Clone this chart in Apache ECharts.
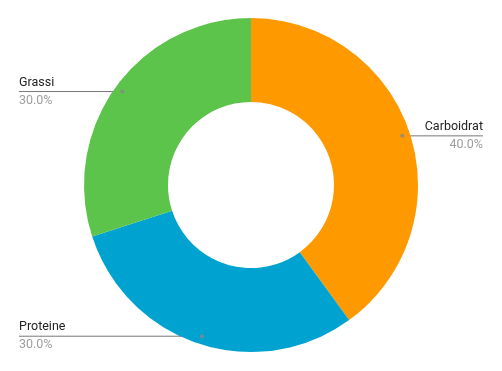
<!DOCTYPE html>
<html>
<head>
<meta charset="utf-8">
<style>
  html, body { margin: 0; padding: 0; background: #fff; }
  #chart { width: 502px; height: 371px; }
</style>
<script src="https://cdn.jsdelivr.net/npm/echarts@6/dist/echarts.min.js"></script>
</head>
<body>
<div id="chart"></div>
<script>
const categories = ['Carboidrat', 'Proteine', 'Grassi'];
const values = [40, 30, 30];
const colors = ['#ff9900', '#00a3d0', '#5cc44a'];

const CX = 251, CY = 185, R_OUT = 167, R_IN = 83, R_DOT = 159;

const total = values.reduce((a, b) => a + b, 0);
let cum = 0;
const dotData = values.map(v => {
  const mid = (cum + v / 2) / total * 100;
  cum += v;
  return [R_DOT, mid];
});

const chart = echarts.init(document.getElementById('chart'), null, { renderer: 'canvas' });

chart.setOption({
  animation: false,
  textStyle: { fontFamily: 'Roboto' },
  polar: { center: [CX, CY], radius: R_OUT },
  angleAxis: { type: 'value', min: 0, max: 100, startAngle: 90, clockwise: true, show: false },
  radiusAxis: { type: 'value', min: 0, max: R_OUT, show: false },
  series: [
    {
      type: 'pie',
      center: [CX, CY],
      radius: [R_IN, R_OUT],
      startAngle: 90,
      clockwise: true,
      silent: true,
      data: categories.map((c, i) => ({ name: c, value: values[i], itemStyle: { color: colors[i] } })),
      label: {
        show: true,
        alignTo: 'edge',
        edgeDistance: 19,
        formatter: p => '{name|' + p.name + '}\n{pct|' + p.percent.toFixed(1) + '%}',
        rich: {
          name: { fontSize: 12.5, color: '#222', lineHeight: 18, fontFamily: 'Roboto' },
          pct: { fontSize: 12.5, color: '#9e9e9e', lineHeight: 18, fontFamily: 'Roboto' }
        }
      },
      labelLine: { show: true, length: 0, length2: 0, lineStyle: { color: '#777', width: 1 } },
      labelLayout: function (params) {
        const pts = params.labelLinePoints;
        if (!pts) return {};
        const p0 = pts[0];
        const k = R_DOT / R_OUT;
        const dx = CX + (p0[0] - CX) * k;
        const dy = CY + (p0[1] - CY) * k;
        const isLeft = params.labelRect.x < CX;
        const endX = isLeft ? params.labelRect.x : params.labelRect.x + params.labelRect.width;
        return {
          y: dy,
          labelLinePoints: [[dx, dy], [dx, dy], [endX, dy]]
        };
      },
      emphasis: { disabled: true }
    },
    {
      type: 'scatter',
      coordinateSystem: 'polar',
      symbol: 'circle',
      symbolSize: 4,
      itemStyle: { color: '#888' },
      silent: true,
      z: 5,
      data: dotData
    }
  ]
});
</script>
</body>
</html>
